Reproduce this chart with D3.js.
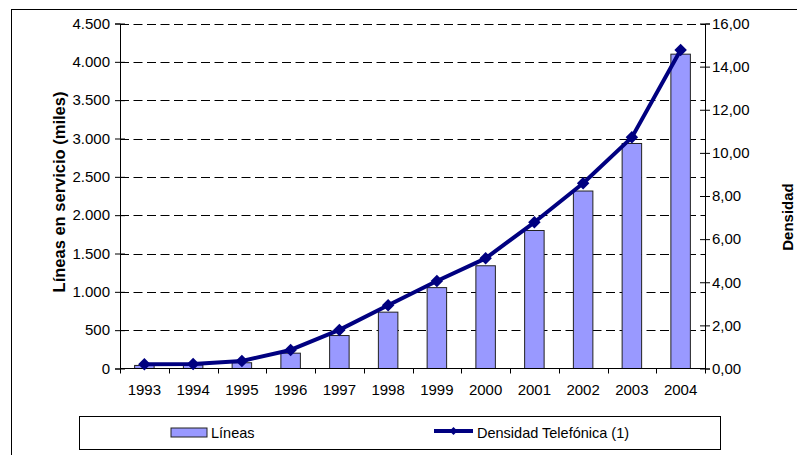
<!DOCTYPE html>
<html>
<head>
<meta charset="utf-8">
<script src="https://cdn.jsdelivr.net/npm/d3@7"></script>
<style>
  html, body { margin: 0; padding: 0; background: #fff; }
  svg text { font-family: "Liberation Sans", Arial, sans-serif; fill: #000; }
</style>
</head>
<body>
<svg id="chart" width="797" height="455"></svg>
<script>
// Telephone lines in service (thousands) and telephone density per year
const years = ["1993", "1994", "1995", "1996", "1997", "1998", "1999", "2000", "2001", "2002", "2003", "2004"];
const lineas = [40, 45, 75, 200, 430, 735, 1055, 1340, 1800, 2315, 2935, 4100];
const densidad = [0.20, 0.21, 0.35, 0.86, 1.79, 2.93, 4.06, 5.11, 6.78, 8.59, 10.72, 14.77];
const leftTicks = [0, 500, 1000, 1500, 2000, 2500, 3000, 3500, 4000, 4500];
const rightTicks = [0, 2, 4, 6, 8, 10, 12, 14, 16];
const leftTitle = "Líneas en servicio (miles)";
const rightTitle = "Densidad";
const legendBars = "Líneas";
const legendLine = "Densidad Telefónica (1)";

const esLocale = d3.formatLocale({ decimal: ",", thousands: ".", grouping: [3], currency: ["", ""] });
const fmtLeft = esLocale.format(",.0f");
const fmtRight = esLocale.format(",.2f");

const tickFont = "15px";
const svg = d3.select("#chart");
const plot = { left: 120, right: 705, top: 23.5, bottom: 368.5 };

const x = d3.scaleBand().domain(years).range([plot.left, plot.right]).paddingInner(0).paddingOuter(0);
const yL = d3.scaleLinear().domain([0, 4500]).range([plot.bottom, plot.top]);
const yR = d3.scaleLinear().domain([0, 16]).range([plot.bottom, plot.top]);

// outer frame
svg.append("rect")
  .attr("x", 11.5).attr("y", 9.5).attr("width", 820).attr("height", 480)
  .attr("fill", "none").attr("stroke", "#000").attr("stroke-width", 1);

// dashed gridlines
svg.append("g").selectAll("line")
  .data(leftTicks.filter(d => d > 0))
  .join("line")
  .attr("x1", plot.left).attr("x2", plot.right)
  .attr("y1", d => Math.round(yL(d)) + 0.5).attr("y2", d => Math.round(yL(d)) + 0.5)
  .attr("stroke", "#000").attr("stroke-width", 1)
  .attr("stroke-dasharray", "9,4.5");

// bars
const barW = x.bandwidth() * 0.4;
svg.append("g").selectAll("rect")
  .data(years.map((yr, i) => ({ yr, v: lineas[i] })))
  .join("rect")
  .attr("x", d => x(d.yr) + (x.bandwidth() - barW) / 2)
  .attr("y", d => yL(d.v))
  .attr("width", barW)
  .attr("height", d => yL(0) - yL(d.v))
  .attr("fill", "#9999FF")
  .attr("stroke", "#222").attr("stroke-width", 1);

// left axis
const axL = d3.axisLeft(yL).tickValues(leftTicks).tickFormat(fmtLeft).tickSize(5).tickPadding(5);
const gL = svg.append("g").attr("transform", `translate(${plot.left},0)`).call(axL);
gL.select(".domain").attr("stroke", "#000");
gL.selectAll(".tick line").attr("x2", -5).attr("x1", 5);
gL.selectAll("text").style("font-size", tickFont).attr("x", -10);

// right axis
const axR = d3.axisRight(yR).tickValues(rightTicks).tickFormat(fmtRight).tickSize(5).tickPadding(6);
const gR = svg.append("g").attr("transform", `translate(${plot.right},0)`).call(axR);
gR.select(".domain").attr("stroke", "#000");
gR.selectAll(".tick line").attr("x1", -5).attr("x2", 5);
gR.selectAll("text").style("font-size", tickFont).attr("x", 7);

// bottom axis: ticks at category boundaries
const gB = svg.append("g").attr("transform", `translate(0,${plot.bottom})`);
gB.append("line").attr("x1", plot.left).attr("x2", plot.right).attr("stroke", "#000");
gB.selectAll("line.tk")
  .data(d3.range(years.length + 1))
  .join("line").attr("class", "tk")
  .attr("x1", i => Math.round(plot.left + i * x.step()) + 0.5)
  .attr("x2", i => Math.round(plot.left + i * x.step()) + 0.5)
  .attr("y1", 0).attr("y2", 5)
  .attr("stroke", "#000");
gB.selectAll("text")
  .data(years)
  .join("text")
  .attr("x", d => x(d) + x.bandwidth() / 2)
  .attr("y", 26.5)
  .attr("text-anchor", "middle")
  .style("font-size", tickFont)
  .text(d => d);

// density line with diamond markers
const pts = years.map((yr, i) => [x(yr) + x.bandwidth() / 2, yR(densidad[i])]);
svg.append("path")
  .attr("d", d3.line()(pts))
  .attr("fill", "none").attr("stroke", "#000080").attr("stroke-width", 4)
  .attr("stroke-linejoin", "round");
const diamond = d3.symbol().type(d3.symbolDiamond2).size(100);
svg.append("g").selectAll("path")
  .data(pts)
  .join("path")
  .attr("transform", d => `translate(${d[0]},${d[1]})`)
  .attr("d", diamond)
  .attr("fill", "#000080");

// axis titles
svg.append("text")
  .attr("transform", `translate(65,192) rotate(-90)`)
  .attr("text-anchor", "middle")
  .style("font-size", "16.5px").style("font-weight", "bold")
  .text(leftTitle);
svg.append("text")
  .attr("transform", `translate(793,217) rotate(-90)`)
  .attr("text-anchor", "middle")
  .style("font-size", "15px").style("font-weight", "bold")
  .text(rightTitle);

// legend
const lg = svg.append("g");
lg.append("rect")
  .attr("x", 79.5).attr("y", 416.5).attr("width", 641).attr("height", 33)
  .attr("fill", "#fff").attr("stroke", "#000").attr("stroke-width", 1);
lg.append("rect")
  .attr("x", 171).attr("y", 428).attr("width", 36).attr("height", 9)
  .attr("fill", "#9999FF").attr("stroke", "#222").attr("stroke-width", 1);
lg.append("text").attr("x", 211).attr("y", 438).style("font-size", "14.5px").text(legendBars);
lg.append("line")
  .attr("x1", 434).attr("x2", 473).attr("y1", 431).attr("y2", 431)
  .attr("stroke", "#000080").attr("stroke-width", 4);
lg.append("path")
  .attr("transform", "translate(453.5,431)")
  .attr("d", d3.symbol().type(d3.symbolDiamond2).size(40))
  .attr("fill", "#000080");
lg.append("text").attr("x", 477).attr("y", 438).style("font-size", "14.5px").text(legendLine);
</script>
</body>
</html>
